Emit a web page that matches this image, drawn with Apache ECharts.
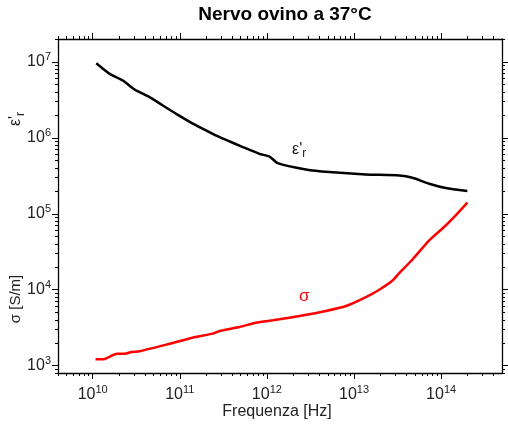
<!DOCTYPE html>
<html>
<head>
<meta charset="utf-8">
<script src="https://cdn.jsdelivr.net/npm/echarts@6/dist/echarts.min.js"></script>
<style>
  html, body { margin: 0; padding: 0; background: #fff; }
  #chart { width: 508px; height: 431px; }
</style>
</head>
<body>
<div id="chart"></div>
<script>
// frequenze [Hz] e valori
var freqEps = [1.10e10, 1.57e10, 2.22e10, 3.03e10, 4.5e10, 6.4e10, 9.1e10, 1.47e11, 2.39e11, 3.4e11,
               5.3e11, 8.2e11, 1.07e12, 1.33e12, 2.81e12, 5.2e12, 1.37e13, 3.3e13, 4.69e13, 7.3e13,
               1.13e14, 2.0e14];
var epsValues = [9.6e6, 6.95e6, 5.68e6, 4.33e6, 3.43e6, 2.66e6, 2.07e6, 1.50e6, 1.13e6, 9.4e5,
                 7.55e5, 6.15e5, 5.67e5, 4.64e5, 3.83e5, 3.54e5, 3.29e5, 3.19e5, 2.98e5, 2.48e5,
                 2.18e5, 1.99e5];
var freqSigma = [1.08e10, 1.31e10, 1.9e10, 2.33e10, 2.77e10, 3.46e10, 7.0e10, 1.4e11, 2.39e11, 2.86e11,
                 4.84e11, 7.5e11, 1.17e12, 1.39e12, 2.36e12, 4.76e12, 8.1e12, 1.37e13, 1.95e13, 2.77e13,
                 3.3e13, 4.69e13, 7.3e13, 1.13e14, 1.47e14, 2.0e14];
var sigmaValues = [1.21e3, 1.21e3, 1.43e3, 1.43e3, 1.51e3, 1.55e3, 1.89e3, 2.33e3, 2.64e3, 2.86e3,
                   3.23e3, 3.68e3, 3.95e3, 4.07e3, 4.5e3, 5.25e3, 6.1e3, 8.0e3, 1.0e4, 1.32e4,
                   1.65e4, 2.5e4, 4.46e4, 7.0e4, 9.5e4, 1.40e5];
// tick principali (decadi)
var xMajorTicks = [1e10, 1e11, 1e12, 1e13, 1e14];
var yMajorTicks = [1e3, 1e4, 1e5, 1e6, 1e7];

var xMin = 4e9, xMax = 5e14;
var yMin = 800, yMax = 2e7;

function minorTicks(lo, hi) {
    var out = [];
    for (var e = Math.floor(Math.log10(lo)); e <= Math.ceil(Math.log10(hi)); e++) {
        for (var m = 2; m <= 9; m++) {
            var v = m * Math.pow(10, e);
            if (v >= lo && v <= hi) out.push(v);
        }
    }
    return out;
}
var xMinorTicks = minorTicks(xMin, xMax);
var yMinorTicks = minorTicks(yMin, yMax);

var font = 'Liberation Sans, Arial, sans-serif';
var supRich = {
    b: { fontSize: 16, fontFamily: font, color: '#222' },
    s: { fontSize: 11, fontFamily: font, color: '#222', padding: [0, 0, 10, 0] }
};
function powLabel(v) {
    return '{b|10}{s|' + Math.round(Math.log10(v)) + '}';
}

function axisX(pos, major, gridIndex) {
    return {
        type: 'log', gridIndex: gridIndex, position: pos, min: xMin, max: xMax,
        axisLine: { show: major, lineStyle: { color: '#000', width: 1.3 } },
        axisTick: { show: true, inside: false, length: major ? 6 : 3,
                    customValues: major ? xMajorTicks : xMinorTicks,
                    lineStyle: { color: '#000', width: 1 } },
        axisLabel: { show: major && pos === 'bottom', customValues: xMajorTicks, margin: 11,
                     formatter: powLabel, rich: supRich },
        splitLine: { show: false }
    };
}
function axisY(pos, major, gridIndex) {
    return {
        type: 'log', gridIndex: gridIndex, position: pos, min: yMin, max: yMax,
        axisLine: { show: major, lineStyle: { color: '#000', width: 1.3 } },
        axisTick: { show: true, inside: false, length: major ? 6 : 3,
                    customValues: major ? yMajorTicks : yMinorTicks,
                    lineStyle: { color: '#000', width: 1 } },
        axisLabel: { show: major && pos === 'left', customValues: yMajorTicks, margin: 7,
                     formatter: powLabel, rich: supRich },
        splitLine: { show: false }
    };
}

var gridBox = { left: 58, top: 39, width: 444, height: 334 };

var myChart = echarts.init(document.getElementById('chart'));
var option = {
    animation: false,
    backgroundColor: '#fff',
    title: {
        text: 'Nervo ovino a 37°C',
        left: 280, top: 0, textAlign: 'center',
        textStyle: { fontFamily: font, fontSize: 19, fontWeight: 'bold', color: '#000' }
    },
    grid: [
        Object.assign({}, gridBox),
        Object.assign({}, gridBox)
    ],
    xAxis: [axisX('bottom', true, 0), axisX('top', true, 0), axisX('bottom', false, 1), axisX('top', false, 1)],
    yAxis: [axisY('left', true, 0), axisY('right', true, 0), axisY('left', false, 1), axisY('right', false, 1)],
    series: [
        {
            name: "ε'r", type: 'line', xAxisIndex: 0, yAxisIndex: 0,
            data: freqEps.map(function (f, i) { return [f, epsValues[i]]; }),
            showSymbol: false, smooth: 0.2,
            lineStyle: { color: '#000', width: 2.5 }
        },
        {
            name: 'σ', type: 'line', xAxisIndex: 0, yAxisIndex: 0,
            data: freqSigma.map(function (f, i) { return [f, sigmaValues[i]]; }),
            showSymbol: false, smooth: 0.2,
            lineStyle: { color: '#ff0000', width: 2.5 }
        }
    ],
    graphic: [
        {
            type: 'text', x: 277, y: 412,
            style: { text: 'Frequenza [Hz]', fontFamily: font, fontSize: 16, fill: '#222',
                     align: 'center', verticalAlign: 'middle' }
        },
        {
            type: 'text', x: 16, y: 119, rotation: Math.PI / 2,
            style: { text: "ε'{r|r}", fontFamily: font, fontSize: 16, fill: '#222',
                     align: 'center', verticalAlign: 'middle',
                     rich: { r: { fontSize: 12, fontFamily: font, fill: '#222', padding: [9, 0, 0, 0] } } }
        },
        {
            type: 'text', x: 16, y: 299, rotation: Math.PI / 2,
            style: { text: 'σ [S/m]', fontFamily: font, fontSize: 15, fill: '#222',
                     align: 'center', verticalAlign: 'middle' }
        },
        {
            type: 'text', x: 292, y: 139,
            style: { text: "ε'{r|r}", fontFamily: font, fontSize: 16, fill: '#222',
                     rich: { r: { fontSize: 12, fontFamily: font, fill: '#222', padding: [9, 0, 0, 0] } } }
        },
        {
            type: 'text', x: 299, y: 288,
            style: { text: 'σ', fontFamily: font, fontSize: 17, fill: '#ff0000' }
        }
    ]
};
myChart.setOption(option);
</script>
</body>
</html>
